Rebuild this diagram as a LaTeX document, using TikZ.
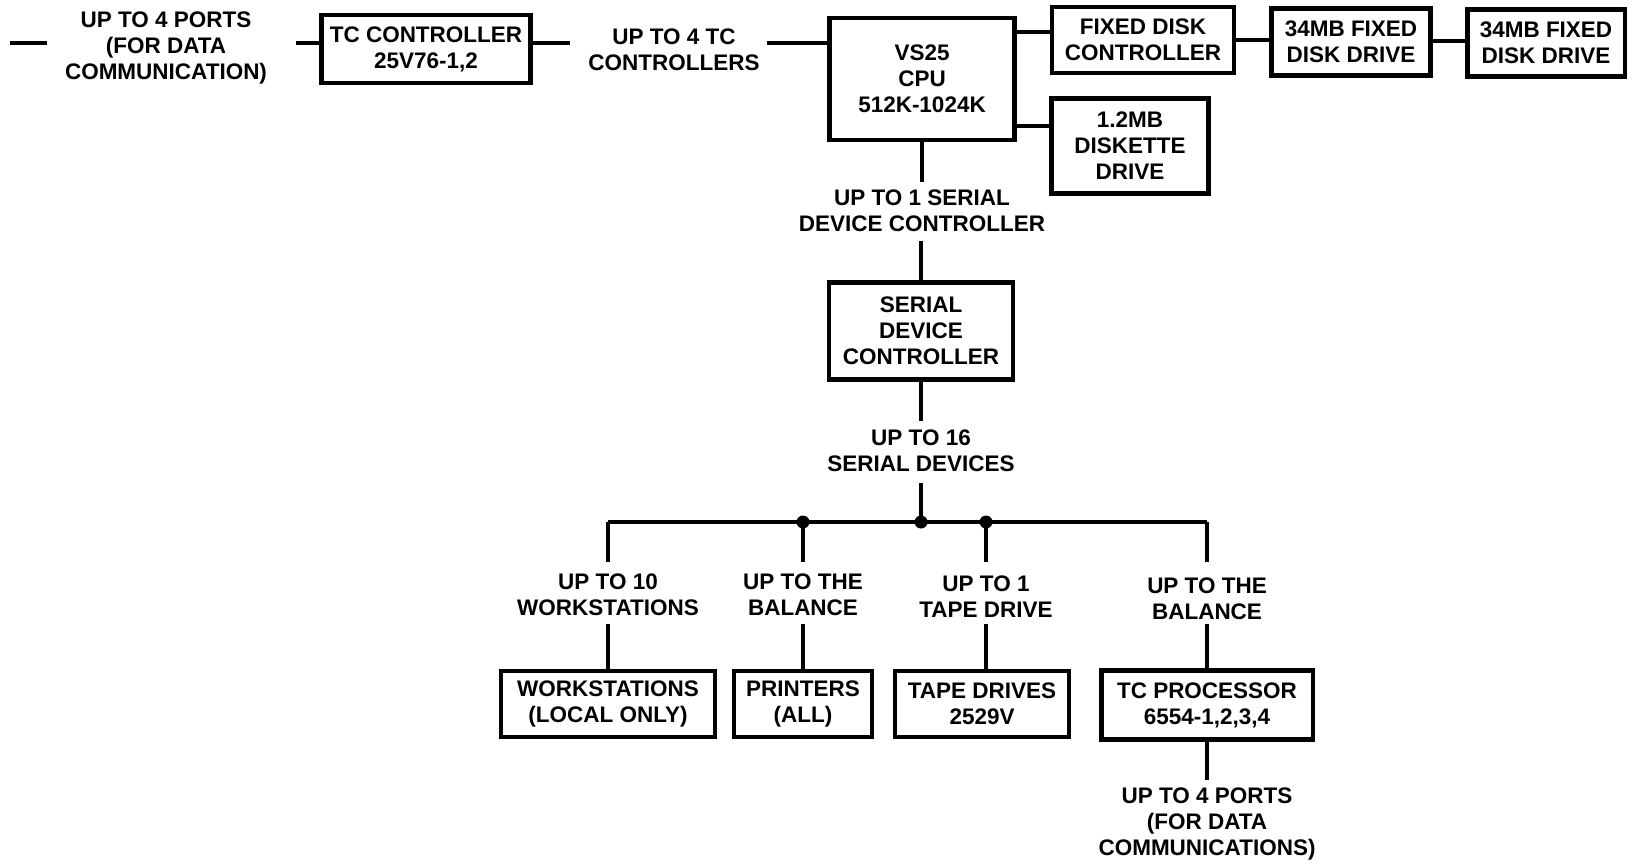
\documentclass[tikz,border=0pt]{standalone}
\usepackage{fontspec}
\setmainfont{Liberation Sans}
\usetikzlibrary{positioning}

\begin{document}
\begin{tikzpicture}[x=0.02cm,y=-0.02cm,
            every node/.style={font=\fontsize{12.8}{14.8}\selectfont\bfseries, align=center},
            box/.style={draw, line width=2.8pt, inner sep=0pt},
            lbl/.style={inner sep=0pt},
            wire/.style={line width=2.3pt}]
            \useasboundingbox (0,0) rectangle (1631,863);
            % top row
            \node[lbl] (ports) at (166,48) {UP TO 4 PORTS\\(FOR DATA\\COMMUNICATION)};
            \node[box, minimum width=4.18cm, minimum height=1.36cm] (tcctl) at (426,49) {TC CONTROLLER\\25V76-1,2};
            \node[lbl] (tcnum) at (674,50) {UP TO 4 TC\\CONTROLLERS};
            \node[box, minimum width=3.7cm, minimum height=2.44cm] (cpu) at (922,79) {VS25\\CPU\\512K-1024K};
            \node[box, minimum width=3.64cm, minimum height=1.32cm] (fdc) at (1143,40) {FIXED DISK\\CONTROLLER};
            \node[box, minimum width=3.18cm, minimum height=1.34cm] (drvA) at (1351,42) {34MB FIXED\\DISK DRIVE};
            \node[box, minimum width=3.16cm, minimum height=1.34cm] (drvB) at (1546,43) {34MB FIXED\\DISK DRIVE};
            \node[box, minimum width=3.14cm, minimum height=1.9cm] (flop) at (1130,146) {1.2MB\\DISKETTE\\DRIVE};
            \coordinate (dashA) at (10,43);
            \coordinate (dashB) at (47,43);
            \coordinate (portsR) at (296,43);
            \coordinate (tcnumL) at (570,43);
            \coordinate (tcnumR) at (767,43);
            \draw[wire] (dashA) -- (dashB);
            \draw[wire] (portsR) -- (tcctl.west |- portsR);
            \draw[wire] (tcctl.east |- tcnumL) -- (tcnumL);
            \draw[wire] (tcnumR) -- (cpu.west |- tcnumR);
            \draw[wire] (cpu.east |- 0,32) -- (fdc.west |- 0,32);
            \draw[wire] (fdc.east |- 0,40) -- (drvA.west |- 0,40);
            \draw[wire] (drvA.east |- 0,41) -- (drvB.west |- 0,41);
            \draw[wire] (cpu.east |- 0,126) -- (flop.west |- 0,126);
            % serial controller
            \node[lbl] (sdcnum) at (922,211) {UP TO 1 SERIAL\\DEVICE CONTROLLER};
            \node[box, minimum width=3.68cm, minimum height=1.94cm] (sdc) at (921,331) {SERIAL\\DEVICE\\CONTROLLER};
            \node[lbl] (devnum) at (921,451) {UP TO 16\\SERIAL DEVICES};
            \coordinate (cpuD) at (922,182);
            \coordinate (sdcU) at (921,241);
            \coordinate (sdcD) at (921,421);
            \coordinate (busU) at (921,483);
            \draw[wire] (cpu.south) -- (cpuD);
            \draw[wire] (sdcU) -- (sdc.north);
            \draw[wire] (sdc.south) -- (sdcD);
            % bus
            \coordinate (busL) at (608,522);
            \coordinate (busR) at (1207,522);
            \coordinate (busM) at (921,522);
            \coordinate (busP) at (803,522);
            \coordinate (busT) at (986,522);
            \draw[wire] (busU) -- (busM);
            \draw[wire] (busL) -- (busR);
            \foreach \d in {busP,busM,busT}
                \fill (\d) circle (0.13cm);
            % devices
            \node[lbl] (wsnum) at (608,595) {UP TO 10\\WORKSTATIONS};
            \node[lbl] (prnum) at (803,595) {UP TO THE\\BALANCE};
            \node[lbl] (tpnum) at (986,597) {UP TO 1\\TAPE DRIVE};
            \node[lbl] (tcpnum) at (1207,599) {UP TO THE\\BALANCE};
            \node[box, minimum width=4.28cm, minimum height=1.32cm] (ws) at (608,704) {WORKSTATIONS\\(LOCAL ONLY)};
            \node[box, minimum width=2.76cm, minimum height=1.32cm] (pr) at (803,704) {PRINTERS\\(ALL)};
            \node[box, minimum width=3.48cm, minimum height=1.32cm] (tape) at (982,704) {TAPE DRIVES\\2529V};
            \node[box, minimum width=4.24cm, minimum height=1.38cm] (tcp) at (1207,705) {TC PROCESSOR\\6554-1,2,3,4};
            \node[lbl] (tcpports) at (1207,824) {UP TO 4 PORTS\\(FOR DATA\\COMMUNICATIONS)};
            \draw[wire] (busL) -- (busL |- 0,562);
            \draw[wire] (busP) -- (busP |- 0,562);
            \draw[wire] (busT) -- (busT |- 0,562);
            \draw[wire] (busR) -- (busR |- 0,562);
            \draw[wire] (busL |- 0,624) -- (ws.north);
            \draw[wire] (busP |- 0,624) -- (pr.north);
            \draw[wire] (busT |- 0,624) -- (busT |- tape.north);
            \draw[wire] (busR |- 0,624) -- (tcp.north);
            \draw[wire] (tcp.south) -- (tcp.south |- 0,780);
        \end{tikzpicture}
\end{document}
